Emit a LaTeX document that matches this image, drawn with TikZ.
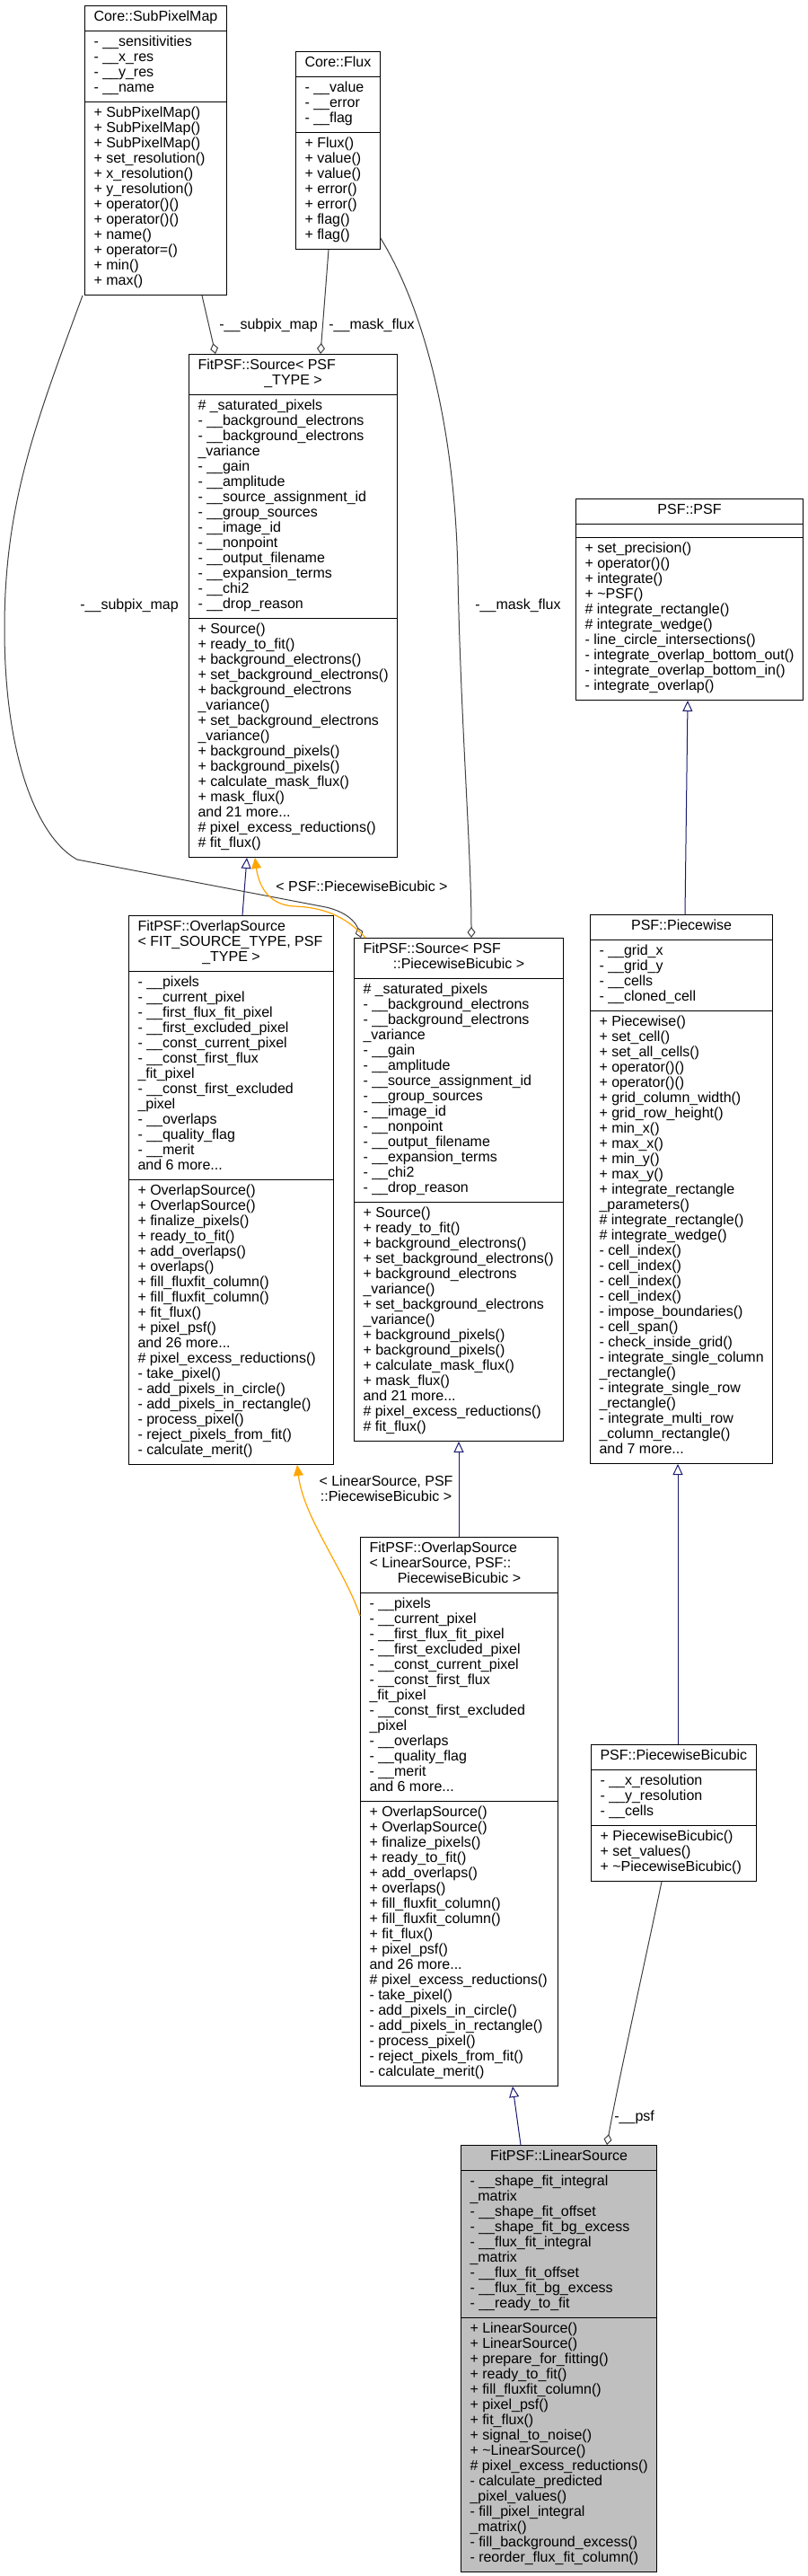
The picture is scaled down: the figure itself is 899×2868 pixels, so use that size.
\documentclass[tikz,border=0pt]{standalone}
\usepackage{fontspec}
\setmainfont{Liberation Sans}
\usetikzlibrary{shapes.multipart,arrows.meta}

\definecolor{inhblue}{HTML}{191970}
\definecolor{aggrgray}{HTML}{404040}
\definecolor{tplorange}{HTML}{FFA500}
\definecolor{curfill}{HTML}{BFBFBF}

% one row per member, rows as tall as the baselineskip
\newcommand{\mlist}[1]{\begin{tabular}{@{}l@{}}#1\end{tabular}}
% class name over several lines, the last one centred
\newcommand{\mtitle}[3]{\begin{tabular}{@{}p{#1}@{}}#2\\\multicolumn{1}{@{}c@{}}{#3}\end{tabular}}

% members shared by the two Source boxes
\newcommand{\srcattrs}{\mlist{\# \_saturated\_pixels\\- \_\_background\_electrons\\- \_\_background\_electrons\\\_variance\\- \_\_gain\\- \_\_amplitude\\- \_\_source\_assignment\_id\\- \_\_group\_sources\\- \_\_image\_id\\- \_\_nonpoint\\- \_\_output\_filename\\- \_\_expansion\_terms\\- \_\_chi2\\- \_\_drop\_reason}}
\newcommand{\srcops}{\mlist{+ Source()\\+ ready\_to\_fit()\\+ background\_electrons()\\+ set\_background\_electrons()\\+ background\_electrons\\\_variance()\\+ set\_background\_electrons\\\_variance()\\+ background\_pixels()\\+ background\_pixels()\\+ calculate\_mask\_flux()\\+ mask\_flux()\\and 21 more...\\\# pixel\_excess\_reductions()\\\# fit\_flux()}}
% members shared by the two OverlapSource boxes
\newcommand{\ovattrs}{\mlist{- \_\_pixels\\- \_\_current\_pixel\\- \_\_first\_flux\_fit\_pixel\\- \_\_first\_excluded\_pixel\\- \_\_const\_current\_pixel\\- \_\_const\_first\_flux\\\_fit\_pixel\\- \_\_const\_first\_excluded\\\_pixel\\- \_\_overlaps\\- \_\_quality\_flag\\- \_\_merit\\and 6 more...}}
\newcommand{\ovops}{\mlist{+ OverlapSource()\\+ OverlapSource()\\+ finalize\_pixels()\\+ ready\_to\_fit()\\+ add\_overlaps()\\+ overlaps()\\+ fill\_fluxfit\_column()\\+ fill\_fluxfit\_column()\\+ fit\_flux()\\+ pixel\_psf()\\and 26 more...\\\# pixel\_excess\_reductions()\\- take\_pixel()\\- add\_pixels\_in\_circle()\\- add\_pixels\_in\_rectangle()\\- process\_pixel()\\- reject\_pixels\_from\_fit()\\- calculate\_merit()}}

\tikzset{
  umlclass/.style={draw=black, line width=0.5pt, fill=white,
    rectangle split, rectangle split parts=3,
    rectangle split part align={center,left,left},
    inner xsep=5pt, inner ysep=2.5pt, anchor=north west,
    font=\fontsize{8}{8.5}\selectfont},
  inherit/.style={draw=inhblue, line width=0.5pt, -{Triangle[open,length=6pt,width=5.5pt]}},
  member/.style={draw=aggrgray, line width=0.5pt, -{Diamond[open,length=6pt,width=4.5pt]}},
  instance/.style={draw=tplorange, line width=0.6pt, -{Triangle[length=6pt,width=5.5pt]}},
  edgelabel/.style={font=\fontsize{8}{8.5}\selectfont, inner sep=0pt}
}

\begin{document}
\begin{tikzpicture}[x=0.5pt,y=-0.5pt]
  \useasboundingbox (0,0) rectangle (899,2868);
  \fill[white] (0,0) rectangle (899,2868);

  % classes
  \node[umlclass] (spm) at (94,6) {\mlist{Core::SubPixelMap}
    \nodepart{two}\mlist{- \_\_sensitivities\\- \_\_x\_res\\- \_\_y\_res\\- \_\_name}
    \nodepart{three}\mlist{+ SubPixelMap()\\+ SubPixelMap()\\+ SubPixelMap()\\+ set\_resolution()\\+ x\_resolution()\\+ y\_resolution()\\+ operator()()\\+ operator()()\\+ name()\\+ operator=()\\+ min()\\+ max()}};
  \node[umlclass] (flux) at (329,57) {\mlist{Core::Flux}
    \nodepart{two}\mlist{- \_\_value\\- \_\_error\\- \_\_flag}
    \nodepart{three}\mlist{+ Flux()\\+ value()\\+ value()\\+ error()\\+ error()\\+ flag()\\+ flag()}};
  \node[umlclass] (srcT) at (210,394) {\mtitle{106pt}{FitPSF::Source< PSF}{\_TYPE >}
    \nodepart{two}\srcattrs
    \nodepart{three}\srcops};
  \node[umlclass] (psf) at (641,555) {\mlist{PSF::PSF}
    \nodepart{two}\mlist{}
    \nodepart{three}\mlist{+ set\_precision()\\+ operator()()\\+ integrate()\\+ \textasciitilde PSF()\\\# integrate\_rectangle()\\\# integrate\_wedge()\\- line\_circle\_intersections()\\- integrate\_overlap\_bottom\_out()\\- integrate\_overlap\_bottom\_in()\\- integrate\_overlap()}};
  \node[umlclass] (ovT) at (143,1019) {\mtitle{104pt}{FitPSF::OverlapSource\\< FIT\_SOURCE\_TYPE, PSF}{\_TYPE >}
    \nodepart{two}\ovattrs
    \nodepart{three}\ovops};
  \node[umlclass] (srcPB) at (394,1044) {\mtitle{106.5pt}{FitPSF::Source< PSF}{::PiecewiseBicubic >}
    \nodepart{two}\srcattrs
    \nodepart{three}\srcops};
  \node[umlclass] (pw) at (657,1018) {\mlist{PSF::Piecewise}
    \nodepart{two}\mlist{- \_\_grid\_x\\- \_\_grid\_y\\- \_\_cells\\- \_\_cloned\_cell}
    \nodepart{three}\mlist{+ Piecewise()\\+ set\_cell()\\+ set\_all\_cells()\\+ operator()()\\+ operator()()\\+ grid\_column\_width()\\+ grid\_row\_height()\\+ min\_x()\\+ max\_x()\\+ min\_y()\\+ max\_y()\\+ integrate\_rectangle\\\_parameters()\\\# integrate\_rectangle()\\\# integrate\_wedge()\\- cell\_index()\\- cell\_index()\\- cell\_index()\\- cell\_index()\\- impose\_boundaries()\\- cell\_span()\\- check\_inside\_grid()\\- integrate\_single\_column\\\_rectangle()\\- integrate\_single\_row\\\_rectangle()\\- integrate\_multi\_row\\\_column\_rectangle()\\and 7 more...}};
  \node[umlclass] (ovLS) at (401,1711) {\mtitle{100pt}{FitPSF::OverlapSource\\< LinearSource, PSF::}{PiecewiseBicubic >}
    \nodepart{two}\ovattrs
    \nodepart{three}\ovops};
  \node[umlclass] (pwb) at (658,1942) {\mlist{PSF::PiecewiseBicubic}
    \nodepart{two}\mlist{- \_\_x\_resolution\\- \_\_y\_resolution\\- \_\_cells}
    \nodepart{three}\mlist{+ PiecewiseBicubic()\\+ set\_values()\\+ \textasciitilde PiecewiseBicubic()}};
  \node[umlclass, fill=curfill] (ls) at (513,2388) {\mlist{FitPSF::LinearSource}
    \nodepart{two}\mlist{- \_\_shape\_fit\_integral\\\_matrix\\- \_\_shape\_fit\_offset\\- \_\_shape\_fit\_bg\_excess\\- \_\_flux\_fit\_integral\\\_matrix\\- \_\_flux\_fit\_offset\\- \_\_flux\_fit\_bg\_excess\\- \_\_ready\_to\_fit}
    \nodepart{three}\mlist{+ LinearSource()\\+ LinearSource()\\+ prepare\_for\_fitting()\\+ ready\_to\_fit()\\+ fill\_fluxfit\_column()\\+ pixel\_psf()\\+ fit\_flux()\\+ signal\_to\_noise()\\+ \textasciitilde LinearSource()\\\# pixel\_excess\_reductions()\\- calculate\_predicted\\\_pixel\_values()\\- fill\_pixel\_integral\\\_matrix()\\- fill\_background\_excess()\\- reorder\_flux\_fit\_column()}};

  % inheritance
  \draw[inherit] (ovT.north -| 270,0) -- (srcT.south -| 275,0);
  \draw[inherit] (ovLS.north -| 511,0) -- (srcPB.south -| 511,0);
  \draw[inherit] (pw.north -| 763,0) -- (psf.south -| 766,0);
  \draw[inherit] (pwb.north -| 755,0) -- (pw.south -| 755,0);
  \draw[inherit] (ls.north -| 580,0) -- (ovLS.south -| 571,0);

  % used members
  \draw[member] (spm.south -| 225,0) -- (srcT.north -| 240,0);
  \draw[member] (flux.south -| 366,0) -- (srcT.north -| 357,0);
  \draw[member] (spm.south -| 92,0) .. controls (40,470) and (5,560) .. (5,700)
    .. controls (5,850) and (45,935) .. (86,957) -- (363,1010)
    .. controls (385,1015) and (396,1026) .. (srcPB.north -| 402,0);
  \draw[member] (flux.east |- 0,265) .. controls (470,340) and (507,470) .. (510,640)
    .. controls (513,800) and (525,950) .. (srcPB.north -| 525,0);
  \draw[member] (pwb.south -| 737,0) .. controls (715,2200) and (688,2320) .. (ls.north -| 676,0);
  \node[edgelabel, anchor=west] (lsubA) at (244,362) {-\_\_subpix\_map};
  \node[edgelabel, anchor=west] (lfluxA) at (366,362) {-\_\_mask\_flux};
  \node[edgelabel, anchor=west] (lsubB) at (89,674) {-\_\_subpix\_map};
  \node[edgelabel, anchor=west] (lfluxB) at (529,674) {-\_\_mask\_flux};
  \node[edgelabel, anchor=west] (lpsf) at (684,2357) {-\_\_psf};

  % template instances
  \draw[instance] (srcPB.north -| 407,0) .. controls (385,1020) and (360,1010) .. (327,1009)
    .. controls (298,1007) and (288,985) .. (srcT.south -| 284,0);
  \draw[instance] (ovLS.west |- 0,1799) .. controls (385,1750) and (338,1690) .. (ovT.south -| 331,0);
  \node[edgelabel, anchor=west] (ltplA) at (307,987) {< PSF::PiecewiseBicubic >};
  \node[edgelabel, align=center] (ltplB) at (430,1657) {< LinearSource, PSF\\::PiecewiseBicubic >};
\end{tikzpicture}
\end{document}
